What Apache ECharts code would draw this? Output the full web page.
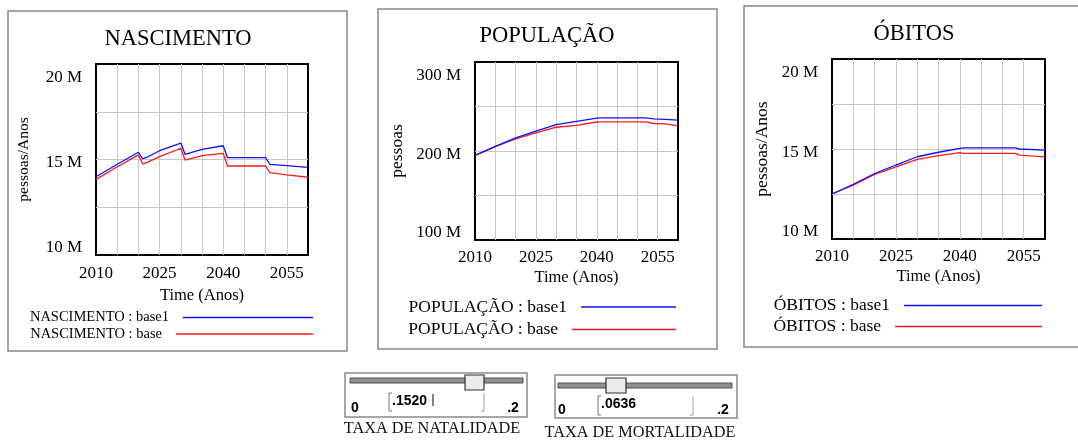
<!DOCTYPE html>
<html><head><meta charset="utf-8">
<script src="https://cdn.jsdelivr.net/npm/echarts@6/dist/echarts.min.js"></script>
<style>html,body{margin:0;padding:0;background:#fff}#c{width:1078px;height:442px}</style>
</head><body><div id="c"></div>
<script>
// ---------- data ----------
const xLabelYears = [2010, 2025, 2040, 2055];

const nascYears = [2010, 2015, 2020, 2021, 2022, 2025, 2030, 2031, 2035, 2040, 2041, 2050, 2051, 2055, 2060];
const nascBase1 = [14.10, 14.75, 15.38, 15.03, 15.12, 15.46, 15.86, 15.27, 15.53, 15.72, 15.10, 15.10, 14.75, 14.68, 14.59];
const nascBase  = [13.96, 14.62, 15.24, 14.76, 14.85, 15.15, 15.59, 14.97, 15.20, 15.32, 14.66, 14.66, 14.31, 14.19, 14.07];
const nascYTicks = [10, 15, 20];

const popYears = [2010, 2015, 2020, 2025, 2030, 2035, 2040, 2041, 2052, 2054, 2057, 2060];
const popBase1 = [195.1, 205.3, 214.7, 222.2, 229.7, 233.4, 237.0, 237.2, 237.2, 236.1, 235.6, 234.6];
const popBase  = [195.1, 204.8, 213.6, 220.3, 226.7, 228.9, 232.6, 232.8, 232.8, 230.9, 230.4, 228.3];
const popYTicks = [100, 200, 300];

const obYears = [2010, 2015, 2020, 2025, 2030, 2035, 2040, 2041, 2053, 2054, 2060];
const obBase1 = [12.50, 13.04, 13.64, 14.11, 14.57, 14.82, 15.04, 15.06, 15.06, 15.00, 14.94];
const obBase  = [12.50, 12.99, 13.59, 14.01, 14.42, 14.63, 14.80, 14.76, 14.76, 14.66, 14.56];
const obYTicks = [10, 15, 20];

const sliderNames = ['TAXA DE NATALIDADE', 'TAXA DE MORTALIDADE'];
const sliderValues = ['.1520', '.0636'];

// ---------- helpers ----------
const SERIF = '"Liberation Serif", "Times New Roman", serif';
const SANS = '"Liberation Sans", Arial, sans-serif';
const zip = (xs, ys) => xs.map((x, i) => [x, ys[i]]);
const BLUE = '#1010ff', RED = '#ff1a1a';

const panels = [
  {title: 'NASCIMENTO', years: nascYears, b1: nascBase1, b: nascBase, ticks: nascYTicks,
   grid: {left: 96, top: 64, width: 212, height: 191}, ymin: 10, ymax: 20, yint: 2.5,
   yname: 'pessoas/Anos', ynameSize: 15.5, ynameGap: 64, xnameGap: 32,
   legFont: 14.5, leg: [{right: 765, top: 318, w: 130}, {right: 765, top: 334.5, w: 137}]},
  {title: 'POPULAÇÃO', years: popYears, b1: popBase1, b: popBase, ticks: popYTicks,
   grid: {left: 475, top: 62, width: 203, height: 178}, ymin: 100, ymax: 300, yint: 50,
   yname: 'pessoas', ynameSize: 17.5, ynameGap: 69, xnameGap: 29,
   legFont: 17.5, leg: [{right: 402, top: 306, w: 95}, {right: 402, top: 328.5, w: 104}]},
  {title: 'ÓBITOS', years: obYears, b1: obBase1, b: obBase, ticks: obYTicks,
   grid: {left: 832, top: 59, width: 213, height: 180}, ymin: 10, ymax: 20, yint: 2.5,
   yname: 'pessoas/Anos', ynameSize: 17.5, ynameGap: 61, xnameGap: 29,
   legFont: 17.5, leg: [{right: 36, top: 304.5, w: 138}, {right: 36, top: 325.5, w: 147}]}
];

const labelRich = {
  t: {fontFamily: SERIF, fontSize: 17, color: '#000', lineHeight: 14},
  sTop: {fontSize: 1, lineHeight: 27},
  sBot: {fontSize: 1, lineHeight: 14},
  sMid: {fontSize: 1, lineHeight: 7}
};

const grid = [], xAxis = [], yAxis = [], series = [], legend = [];
panels.forEach((p, i) => {
  grid.push(Object.assign({show: true, borderColor: '#000', borderWidth: 2, backgroundColor: '#fff', containLabel: false}, p.grid));
  xAxis.push({
    type: 'value', gridIndex: i, min: 2010, max: 2060, interval: 5,
    axisLine: {show: false}, axisTick: {show: false},
    splitLine: {show: true, showMinLine: false, showMaxLine: false, lineStyle: {color: '#c8c8c8', width: 1}},
    axisLabel: {formatter: v => xLabelYears.includes(v) ? String(v) : '', fontFamily: SERIF, fontSize: 17, color: '#000', margin: i === 0 ? 10 : 9, showMinLabel: true, showMaxLabel: true},
    name: 'Time (Anos)', nameLocation: 'middle', nameGap: p.xnameGap,
    nameTextStyle: {fontFamily: SERIF, fontSize: 16.5, color: '#000'}
  });
  yAxis.push({
    type: 'value', gridIndex: i, min: p.ymin, max: p.ymax, interval: p.yint,
    axisLine: {show: false}, axisTick: {show: false},
    splitLine: {show: true, showMinLine: false, showMaxLine: false, lineStyle: {color: '#c8c8c8', width: 1}},
    axisLabel: {
      formatter: v => {
        if (!p.ticks.includes(v)) return '';
        const s = '{t|' + v + ' M}';
        if (v === p.ymax) return '{sTop| }\n' + s;
        if (v === p.ymin) return s + '\n{sBot| }';
        return '{sMid| }\n' + s;
      },
      rich: labelRich, fontFamily: SERIF, fontSize: 17, color: '#000', margin: 14
    },
    name: p.yname, nameLocation: 'middle', nameGap: p.ynameGap, nameRotate: 90,
    nameTextStyle: {fontFamily: SERIF, fontSize: p.ynameSize, color: '#000'}
  });
  const n1 = p.title + ' : base1', n0 = p.title + ' : base';
  series.push({type: 'line', name: n0, xAxisIndex: i, yAxisIndex: i, data: zip(p.years, p.b), symbol: 'none', color: RED, lineStyle: {width: 1.3, color: RED}, z: 3});
  series.push({type: 'line', name: n1, xAxisIndex: i, yAxisIndex: i, data: zip(p.years, p.b1), symbol: 'none', color: BLUE, lineStyle: {width: 1.3, color: BLUE}, z: 4});
  [n1, n0].forEach((nm, k) => {
    legend.push({
      data: [{name: nm, icon: 'rect'}], right: p.leg[k].right, top: p.leg[k].top - 8, itemWidth: p.leg[k].w, itemHeight: 1.4,
      align: 'right', padding: 0, selectedMode: false,
      textStyle: {fontFamily: SERIF, fontSize: p.legFont, color: '#000', padding: [0, 9, 0, 0]}
    });
  });
});

// ---------- decorations (panels, titles, sliders) ----------
const graphic = [
  {type: 'rect', shape: {x: 8, y: 11, width: 339, height: 340}, style: {fill: 'none', stroke: '#888', lineWidth: 1.5}, z: -5},
  {type: 'rect', shape: {x: 378, y: 9, width: 339, height: 340}, style: {fill: 'none', stroke: '#888', lineWidth: 1.5}, z: -5},
  {type: 'rect', shape: {x: 744, y: 6, width: 345, height: 341}, style: {fill: 'none', stroke: '#888', lineWidth: 1.5}, z: -5},
  {type: 'text', x: 178, y: 39, style: {text: panels[0].title, font: '22.5px ' + SERIF, fill: '#000', align: 'center', verticalAlign: 'middle'}},
  {type: 'text', x: 547, y: 36, style: {text: panels[1].title, font: '22.5px ' + SERIF, fill: '#000', align: 'center', verticalAlign: 'middle'}},
  {type: 'text', x: 914, y: 34, style: {text: panels[2].title, font: '22.5px ' + SERIF, fill: '#000', align: 'center', verticalAlign: 'middle'}}
];
function slider(box, track, thumb, input, labelPos, zeroX, twoX, numY, valText, valY, name) {
  graphic.push(
    {type: 'rect', shape: box, style: {fill: '#fff', stroke: '#8a8a8a', lineWidth: 1.5}},
    {type: 'rect', shape: track, style: {fill: '#909090', stroke: '#505050', lineWidth: 1}},
    {type: 'rect', shape: thumb, style: {fill: '#ececec', stroke: '#303030', lineWidth: 1.2}},
    {type: 'polyline', shape: {points: [[input.x + 3, input.y], [input.x, input.y], [input.x, input.y + input.height], [input.x + 3, input.y + input.height]]}, style: {stroke: '#707070', lineWidth: 1, fill: 'none'}},
    {type: 'polyline', shape: {points: [[input.x + input.width, input.y], [input.x + input.width, input.y + input.height], [input.x + input.width - 3, input.y + input.height]]}, style: {stroke: '#a0a0a0', lineWidth: 1, fill: 'none'}},
    {type: 'text', x: input.x + 3, y: valY, style: {text: valText, font: 'bold 14px ' + SANS, fill: '#000', align: 'left', verticalAlign: 'middle'}},
    {type: 'text', x: zeroX, y: numY, style: {text: '0', font: 'bold 14px ' + SANS, fill: '#000', align: 'center', verticalAlign: 'middle'}},
    {type: 'text', x: twoX, y: numY, style: {text: '.2', font: 'bold 14px ' + SANS, fill: '#000', align: 'center', verticalAlign: 'middle'}},
    {type: 'text', x: labelPos[0], y: labelPos[1], style: {text: name, font: '16.3px ' + SERIF, fill: '#111', align: 'center', verticalAlign: 'middle'}}
  );
}
slider({x: 345, y: 373, width: 182, height: 44}, {x: 350, y: 378, width: 173, height: 5}, {x: 465, y: 375, width: 19, height: 15},
  {x: 389, y: 393, width: 95, height: 18}, [432, 429], 355, 513, 408, sliderValues[0], 401, sliderNames[0]);
graphic.push({type: 'line', shape: {x1: 433, y1: 394, x2: 433, y2: 406}, style: {stroke: '#000', lineWidth: 1}});
slider({x: 555, y: 375, width: 182, height: 43}, {x: 558, y: 383, width: 174, height: 5}, {x: 606, y: 378, width: 20, height: 15},
  {x: 598, y: 396, width: 95, height: 19}, [640, 433], 562, 723, 410, sliderValues[1], 404, sliderNames[1]);

const chart = echarts.init(document.getElementById('c'), null, {renderer: 'canvas'});
chart.setOption({animation: false, backgroundColor: '#fff', grid, xAxis, yAxis, series, legend, graphic, tooltip: {show: false}});
</script></body></html>
